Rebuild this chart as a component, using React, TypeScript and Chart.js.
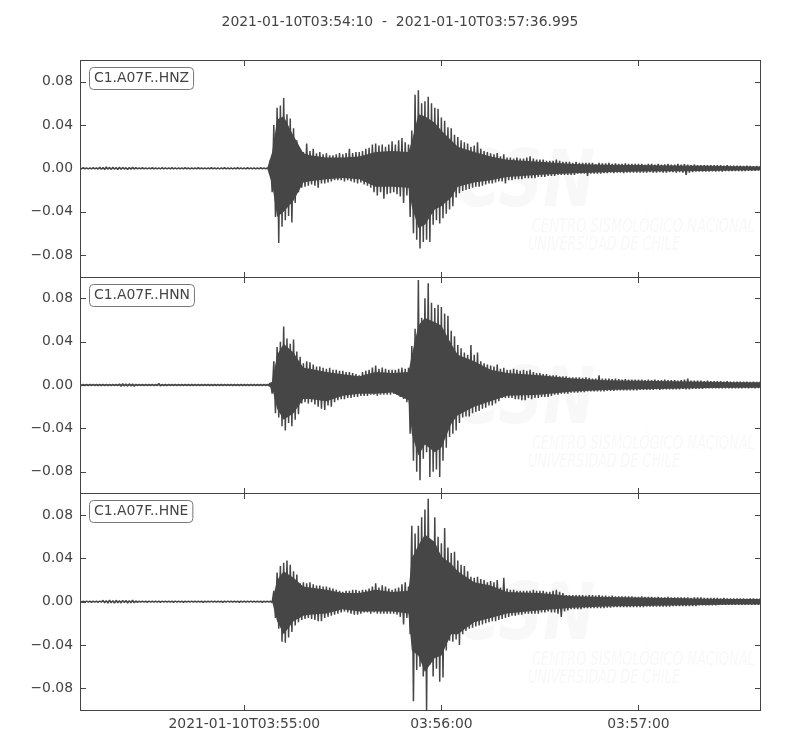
import React, { useEffect, useRef } from 'react';
import { Chart, registerables } from 'chart.js';

Chart.register(...registerables);

// ---------------- data ----------------
const TITLE = '2021-01-10T03:54:10  -  2021-01-10T03:57:36.995';
const TRACE_IDS = ['C1.A07F..HNZ', 'C1.A07F..HNN', 'C1.A07F..HNE'];
const START_S = 0;
const END_S = 206.995;
const X_TICK_SECONDS = [50, 110, 170];
const X_TICK_LABELS = ['2021-01-10T03:55:00', '03:56:00', '03:57:00'];
const Y_TICKS = [-0.08, -0.04, 0, 0.04, 0.08];
const Y_LIMIT = 0.1;
const SAMPLE_STEP_S = 1; // one positive and one negative spike reading per second
const AMPLITUDE_UNIT = 0.001; // readings below are in thousandths

// Times (s after 03:54:10) at which the dense solid core of each trace was read
const CORE_TIMES = [
  0, 57, 58.5, 60, 62, 65, 68, 70, 75, 80, 85, 90, 95, 100, 101, 103,
  105, 108, 110, 113, 115, 120, 125, 130, 140, 150, 160, 170, 180, 190, 200, 207,
];

// HNZ: spike tops (at t) and spike bottoms (at t + 0.5 s)
const HNZ_PEAKS = [
  0.5, 0.6, 0.5, 0.5, 0.6, 0.5, 1.0, 0.8, 1.2, 0.9,
  1.0, 0.7, 1.1, 0.9, 0.6, 0.8, 1.0, 0.6, 0.5, 0.6,
  0.5, 0.5, 0.6, 0.5, 0.5, 0.6, 0.5, 0.5, 0.6, 0.5,
  0.5, 0.5, 0.6, 0.5, 0.5, 0.5, 0.6, 0.5, 0.5, 0.5,
  0.6, 0.5, 0.5, 0.5, 0.6, 0.5, 0.5, 0.5, 0.6, 0.5,
  0.5, 0.6, 0.5, 0.5, 0.5, 0.6, 0.5, 0.5, 8, 40,
  56, 58, 65, 50, 46, 37, 26, 18, 15, 23,
  16, 18, 14, 15, 13, 14, 12, 12, 13, 14,
  13, 14, 18, 14, 15, 15, 16, 18, 19, 22,
  23, 21, 22, 20, 22, 25, 22, 26, 28, 24,
  22, 35, 68, 72, 60, 62, 66, 60, 56, 55,
  47, 44, 38, 37, 31, 29, 26, 24, 23, 20,
  21, 24, 18, 16, 15, 14, 13, 14, 11, 13,
  10, 10, 9, 10, 9, 9, 10, 11, 9, 8,
  8, 8, 7, 7, 7, 8, 7, 6, 6, 6,
  5, 6, 5, 5, 5, 5, 5, 4, 5, 4.5,
  4.5, 5, 4, 4.5, 4, 4, 4.5, 4, 4, 4,
  4, 4, 3.5, 4, 4, 3.5, 4, 3.5, 3.7, 4,
  3.5, 3.5, 4, 3.5, 4, 3.5, 3, 3.5, 3, 3,
  3, 3, 3, 2.8, 3, 2.8, 2.5, 3, 2.5, 2.5,
  2.5, 2.5, 2.2, 2.5, 2.2, 2, 2.2, 2,
];
const HNZ_TROUGHS = [
  0.5, 0.5, 0.6, 0.5, 0.5, 0.7, 0.9, 1.1, 0.8, 1.0,
  0.8, 1.1, 0.9, 0.7, 1.0, 0.8, 0.7, 0.5, 0.5, 0.5,
  0.6, 0.5, 0.5, 0.5, 0.6, 0.5, 0.5, 0.5, 0.5, 0.6,
  0.5, 0.5, 0.5, 0.6, 0.5, 0.5, 0.5, 0.5, 0.6, 0.5,
  0.5, 0.5, 0.6, 0.5, 0.5, 0.5, 0.6, 0.5, 0.5, 0.5,
  0.6, 0.5, 0.5, 0.5, 0.6, 0.5, 0.5, 0.5, 22, 45,
  69, 54, 48, 44, 50, 32, 22, 18, 17, 16,
  15, 16, 18, 14, 14, 13, 12, 11, 11, 11,
  12, 11, 12, 13, 14, 13, 15, 16, 18, 22,
  25, 22, 28, 24, 23, 22, 24, 26, 32, 25,
  45, 60, 66, 74, 68, 66, 68, 52, 48, 51,
  46, 42, 38, 35, 27, 23, 21, 20, 19, 18,
  17, 17, 16, 15, 14, 14, 13, 12, 12, 14,
  11, 11, 10, 10, 10, 9, 9, 9, 9, 8,
  8, 8, 7, 7, 7, 6, 6, 6, 6, 6,
  6, 5, 5, 5, 7, 5, 5, 5, 5, 4.5,
  4.5, 4, 4.5, 4, 4, 4.5, 4, 4, 4, 4,
  4, 4, 4, 3.5, 4, 4, 3.5, 4, 4, 3.5,
  3.5, 4, 3.5, 4, 6, 4, 3.5, 3, 3, 3,
  3, 3, 2.8, 3, 2.8, 3, 2.5, 2.5, 2.5, 2.5,
  2.5, 2.5, 2.5, 2.2, 2.2, 2.2, 2, 2,
];
const HNZ_CORE_TOP = [
  0.4, 0.4, 15, 45, 48, 30, 14, 12, 10, 10, 11, 15, 16, 15, 25, 50,
  48, 42, 35, 26, 20, 15, 11, 8, 6, 4, 3.3, 3, 2.7, 2.3, 2, 1.8,
];
const HNZ_CORE_BOTTOM = [
  0.4, 0.4, 15, 45, 40, 30, 13, 12, 10, 9, 10, 17, 17, 18, 35, 55,
  52, 38, 35, 27, 17, 13, 11, 8, 6, 4.5, 3.5, 3, 2.8, 2.4, 2, 1.8,
];

// HNN
const HNN_PEAKS = [
  0.5, 0.5, 0.6, 0.5, 0.5, 0.6, 0.5, 0.6, 0.5, 0.5,
  0.6, 0.5, 1.0, 1.2, 0.9, 1.1, 1.0, 0.6, 0.5, 0.5,
  0.5, 0.6, 0.5, 0.5, 1.5, 0.5, 0.6, 0.5, 0.5, 0.5,
  0.5, 0.5, 0.6, 0.5, 0.5, 0.5, 0.5, 0.6, 0.5, 0.5,
  0.5, 0.5, 0.5, 0.6, 0.5, 0.5, 0.5, 0.5, 0.5, 0.6,
  0.5, 0.5, 0.5, 0.5, 0.6, 0.5, 0.5, 0.5, 2, 22,
  35, 40, 54, 43, 38, 42, 31, 26, 20, 22,
  21, 19, 17, 17, 16, 15, 16, 14, 14, 13,
  13, 12, 12, 11, 10, 9, 12, 13, 14, 16,
  18, 15, 16, 15, 14, 14, 14, 15, 16, 15,
  16, 36, 52, 97, 62, 80, 94, 76, 71, 74,
  72, 66, 64, 50, 45, 37, 34, 30, 28, 37,
  28, 30, 22, 20, 19, 18, 17, 19, 15, 16,
  14, 14, 15, 14, 13, 14, 13, 14, 12, 11,
  11, 10, 10, 9, 9, 9, 8, 8, 8, 7,
  7, 7, 7, 6.5, 7, 6.5, 6, 6, 9, 6,
  6, 6, 5.5, 6, 5.5, 5, 5.5, 5, 5, 5,
  5, 5, 4.5, 5, 4.5, 5, 4.5, 4.5, 5, 4.5,
  4.5, 4.5, 4, 4.5, 5, 6, 4, 4, 4, 4,
  3.5, 4, 3.5, 3.5, 3.5, 3.5, 3, 3.5, 3, 3,
  3, 3, 3, 3, 2.8, 3, 2.8, 3,
];
const HNN_TROUGHS = [
  0.5, 0.5, 0.5, 0.6, 0.5, 0.5, 0.6, 0.5, 0.5, 0.5,
  0.5, 0.6, 1.2, 1.0, 1.1, 0.9, 1.2, 0.6, 0.5, 0.5,
  0.6, 0.5, 0.5, 0.5, 1.0, 0.6, 0.5, 0.5, 0.6, 0.5,
  0.5, 0.5, 0.5, 0.5, 0.6, 0.5, 0.5, 0.5, 0.5, 0.5,
  0.6, 0.5, 0.5, 0.5, 0.5, 0.5, 0.6, 0.5, 0.5, 0.5,
  0.5, 0.6, 0.5, 0.5, 0.5, 0.5, 0.6, 0.5, 8, 26,
  30, 38, 42, 35, 38, 32, 27, 17, 16, 17,
  16, 18, 20, 22, 23, 19, 20, 16, 14, 13,
  13, 12, 12, 11, 11, 10, 10, 10, 9, 9,
  10, 9, 9, 9, 9, 8, 9, 11, 13, 16,
  45, 70, 80, 88, 68, 62, 85, 80, 78, 85,
  70, 58, 48, 45, 42, 35, 30, 29, 29, 26,
  25, 24, 22, 21, 19, 19, 17, 15, 12, 12,
  12, 12, 13, 13, 14, 14, 12, 13, 12, 12,
  11, 11, 11, 10, 9, 9, 8, 8, 8, 7,
  7, 7, 6.5, 6.5, 6, 6, 6, 6, 6, 6,
  5.5, 5.5, 5.5, 5, 5, 5, 5, 5, 5, 5,
  4.5, 4.5, 4.5, 4.5, 4.5, 4, 4.5, 4, 4, 4,
  4, 4, 4, 3.5, 4, 4, 3.5, 3.5, 3.5, 3.5,
  3, 3, 3, 3, 3, 3, 3, 3, 3, 3,
  3, 3, 2.8, 3, 2.8, 3, 2.8, 3,
];
const HNN_CORE_TOP = [
  0.4, 0.4, 3, 28, 38, 30, 16, 15, 12, 10, 8, 12, 11, 12, 28, 55,
  62, 58, 55, 38, 28, 22, 14, 11, 9, 6, 4.5, 4, 3.5, 3, 2.5, 2.5,
];
const HNN_CORE_BOTTOM = [
  0.4, 0.4, 3, 22, 32, 26, 13, 13, 15, 10, 8, 8, 7, 14, 45, 65,
  55, 62, 58, 36, 28, 20, 15, 10, 9, 6, 4.5, 4, 3.5, 2.8, 2.5, 2.5,
];

// HNE
const HNE_PEAKS = [
  0.5, 0.5, 0.6, 0.5, 0.5, 0.5, 0.6, 1.2, 1.0, 1.4,
  1.0, 1.3, 0.8, 1.2, 1.1, 0.9, 1.3, 0.7, 0.5, 0.5,
  0.5, 0.6, 0.5, 0.5, 0.5, 0.6, 0.5, 0.5, 0.5, 0.6,
  0.5, 0.5, 0.5, 0.5, 0.6, 0.5, 0.5, 0.5, 0.5, 0.5,
  0.6, 0.5, 0.5, 0.5, 0.5, 0.6, 0.5, 0.5, 0.5, 0.5,
  0.5, 0.5, 0.6, 0.5, 0.5, 0.5, 0.5, 0.5, 0.5, 10,
  27, 33, 36, 38, 34, 28, 25, 17, 18, 17,
  18, 16, 15, 15, 14, 14, 13, 12, 11, 10,
  9, 10, 10, 11, 11, 10, 11, 11, 12, 14,
  17, 13, 15, 14, 12, 11, 12, 13, 16, 18,
  14, 70, 63, 70, 78, 85, 95, 55, 78, 60,
  54, 68, 50, 45, 46, 38, 34, 33, 28, 23,
  22, 23, 21, 20, 18, 19, 18, 20, 13, 22,
  12, 11, 11, 10, 10, 10, 10, 10, 11, 10,
  10, 10, 9, 9, 10, 11, 9, 8, 6, 6,
  6, 6, 6, 6, 5.5, 6, 6, 5.5, 6, 5.5,
  5.5, 5, 5.5, 5, 5, 5, 5, 5, 5, 4.5,
  4.5, 5, 4.5, 4.5, 4.5, 4, 4.5, 4, 4, 4.5,
  4, 4, 4, 4, 4, 4, 3.5, 4, 4, 4,
  3.5, 3.5, 3.5, 3.5, 3.5, 3, 3.5, 3, 3, 3,
  3, 3, 3, 2.8, 3, 3, 2.8, 3,
];
const HNE_TROUGHS = [
  0.5, 0.5, 0.5, 0.6, 0.5, 0.6, 0.5, 1.0, 1.4, 1.1,
  1.3, 1.0, 1.2, 0.9, 1.3, 1.0, 1.1, 0.6, 0.5, 0.5,
  0.6, 0.5, 0.5, 0.5, 0.6, 0.5, 0.5, 0.5, 0.6, 0.5,
  0.5, 0.6, 0.5, 0.5, 0.5, 0.5, 0.5, 0.6, 0.5, 0.5,
  0.5, 0.5, 0.5, 0.6, 0.5, 0.5, 0.5, 0.5, 0.6, 0.5,
  0.5, 0.5, 0.5, 0.5, 0.5, 0.6, 0.5, 0.5, 1, 15,
  25, 37, 38, 33, 28, 22, 19, 17, 16, 15,
  16, 17, 18, 18, 15, 14, 13, 12, 11, 10,
  9, 10, 11, 12, 12, 11, 10, 10, 11, 10,
  11, 11, 11, 11, 11, 11, 12, 14, 21, 15,
  30, 92, 63, 60, 69, 100, 58, 69, 62, 74,
  70, 45, 36, 37, 35, 40, 30, 27, 25, 24,
  23, 22, 21, 20, 19, 18, 18, 17, 16, 15,
  14, 13, 13, 12, 12, 11, 11, 11, 11, 11,
  10, 10, 9, 10, 10, 11, 14, 9, 8, 7,
  7, 7, 7, 6, 6, 6, 6, 6, 6, 6,
  5.5, 5.5, 5, 5, 5, 5, 5, 5, 5, 5,
  5, 5, 4.5, 4.5, 4.5, 4.5, 4.5, 4.5, 4.5, 4.5,
  4, 4, 4, 4, 4, 4, 4, 4, 3.5, 3.5,
  3.5, 3.5, 3.5, 3.5, 3, 3, 3, 3, 3, 3,
  3, 3, 3, 3, 3, 3, 2.8, 3,
];
const HNE_CORE_TOP = [
  0.4, 0.4, 0.4, 20, 28, 22, 14, 13, 11, 8, 8, 11, 9, 10, 40, 52,
  62, 55, 42, 35, 28, 18, 15, 9, 8, 5, 4.3, 3.8, 3.3, 2.8, 2.5, 2.5,
];
const HNE_CORE_BOTTOM = [
  0.4, 0.4, 0.4, 18, 30, 18, 13, 12, 11, 7, 9, 9, 9, 11, 45, 50,
  65, 52, 50, 30, 30, 19, 15, 11, 8, 5.5, 4.5, 4, 3.5, 3, 2.5, 2.5,
];

const TRACES = [
  { id: TRACE_IDS[0], axis: 'yZ', peaks: HNZ_PEAKS, troughs: HNZ_TROUGHS, coreTop: HNZ_CORE_TOP, coreBottom: HNZ_CORE_BOTTOM },
  { id: TRACE_IDS[1], axis: 'yN', peaks: HNN_PEAKS, troughs: HNN_TROUGHS, coreTop: HNN_CORE_TOP, coreBottom: HNN_CORE_BOTTOM },
  { id: TRACE_IDS[2], axis: 'yE', peaks: HNE_PEAKS, troughs: HNE_TROUGHS, coreTop: HNE_CORE_TOP, coreBottom: HNE_CORE_BOTTOM },
];

// ---------------- style ----------------
const FONT_FAMILY = "'DejaVu Sans', sans-serif";
const FONT_SIZE = 13.9;
const INK = '#444444';
const WAVE = '#464646';
const BOX_EDGE = '#777777';
const WATERMARK = '#f8f8f8';
const TICK_LEN = 5.5;

function zigzagSeries(peaks: number[], troughs: number[]) {
  const pts: { x: number; y: number }[] = [];
  for (let i = 0; i < peaks.length; i++) {
    const t = START_S + i * SAMPLE_STEP_S;
    pts.push({ x: t, y: peaks[i] * AMPLITUDE_UNIT });
    pts.push({ x: t + SAMPLE_STEP_S / 2, y: -troughs[i] * AMPLITUDE_UNIT });
  }
  return pts;
}
function coreSeries(values: number[], sign: number) {
  return values.map((v, i) => ({ x: CORE_TIMES[i], y: sign * v * AMPLITUDE_UNIT }));
}

function fitText(ctx: CanvasRenderingContext2D, text: string, x: number, y: number, w: number) {
  const m = ctx.measureText(text).width;
  ctx.save();
  ctx.translate(x, y);
  ctx.scale(w / m, 1);
  ctx.fillText(text, 0, 0);
  ctx.restore();
}

function roundRect(ctx: CanvasRenderingContext2D, x: number, y: number, w: number, h: number, r: number) {
  ctx.beginPath();
  ctx.moveTo(x + r, y);
  ctx.lineTo(x + w - r, y);
  ctx.arcTo(x + w, y, x + w, y + r, r);
  ctx.lineTo(x + w, y + h - r);
  ctx.arcTo(x + w, y + h, x + w - r, y + h, r);
  ctx.lineTo(x + r, y + h);
  ctx.arcTo(x, y + h, x, y + h - r, r);
  ctx.lineTo(x, y + r);
  ctx.arcTo(x, y, x + r, y, r);
  ctx.closePath();
}

const seismoPlugin = {
  id: 'seismoPanels',
  beforeDatasetsDraw(chart: any) {
    const ctx: CanvasRenderingContext2D = chart.ctx;
    const { left } = chart.chartArea;
    ctx.save();
    ctx.fillStyle = WATERMARK;
    ctx.textBaseline = 'alphabetic';
    ctx.textAlign = 'left';
    TRACES.forEach((tr) => {
      const s = chart.scales[tr.axis];
      const top = s.top;
      ctx.font = `italic bold 78px 'DejaVu Sans Condensed', ${FONT_FAMILY}`;
      fitText(ctx, 'CSN', left + 375, top + 146, 140);
      ctx.font = `italic 20px 'DejaVu Sans Condensed', ${FONT_FAMILY}`;
      fitText(ctx, 'CENTRO SISMOLÓGICO NACIONAL', left + 452, top + 172, 223);
      fitText(ctx, 'UNIVERSIDAD DE CHILE', left + 448, top + 190, 152);
    });
    ctx.restore();
  },
  afterDraw(chart: any) {
    const ctx: CanvasRenderingContext2D = chart.ctx;
    const { left, right } = chart.chartArea;
    const xs = chart.scales.x;
    const L = Math.round(left) + 0.5;
    const R = Math.round(right) + 0.5;
    ctx.save();
    ctx.strokeStyle = INK;
    ctx.lineWidth = 1;
    const seg = (x1: number, y1: number, x2: number, y2: number) => {
      ctx.beginPath();
      ctx.moveTo(x1, y1);
      ctx.lineTo(x2, y2);
      ctx.stroke();
    };
    TRACES.forEach((tr) => {
      const s = chart.scales[tr.axis];
      const T = Math.round(s.top) + 0.5;
      const B = Math.round(s.bottom) + 0.5;
      ctx.strokeStyle = INK;
      ctx.strokeRect(L, T, R - L, B - T);
      Y_TICKS.forEach((v) => {
        const y = Math.round(s.getPixelForValue(v)) + 0.5;
        seg(L, y, L + TICK_LEN, y);
        seg(R - TICK_LEN, y, R, y);
      });
      X_TICK_SECONDS.forEach((t) => {
        const x = Math.round(xs.getPixelForValue(t)) + 0.5;
        seg(x, T, x, T + TICK_LEN);
        seg(x, B - TICK_LEN, x, B);
      });
      // trace id box
      ctx.font = `${FONT_SIZE}px ${FONT_FAMILY}`;
      const tw = ctx.measureText(tr.id).width;
      const bx = Math.round(left) + 9.5;
      const by = Math.round(s.top) + 7.5;
      roundRect(ctx, bx, by, tw + 9, 22, 4);
      ctx.fillStyle = '#ffffff';
      ctx.fill();
      ctx.strokeStyle = BOX_EDGE;
      ctx.stroke();
      ctx.fillStyle = INK;
      ctx.textAlign = 'left';
      ctx.textBaseline = 'alphabetic';
      ctx.fillText(tr.id, bx + 4.5, s.top + 22);
    });
    // title
    ctx.font = `${FONT_SIZE}px ${FONT_FAMILY}`;
    ctx.fillStyle = INK;
    ctx.textAlign = 'center';
    ctx.textBaseline = 'alphabetic';
    ctx.fillText(TITLE, chart.width / 2, 26);
    ctx.restore();
  },
};

function yAxis(weight: number) {
  return {
    type: 'linear',
    position: 'left',
    stack: 'traces',
    stackWeight: 1,
    weight,
    min: -Y_LIMIT,
    max: Y_LIMIT,
    grid: { display: false, drawTicks: false },
    border: { display: false },
    afterBuildTicks: (s: any) => {
      s.ticks = Y_TICKS.map((v) => ({ value: v }));
    },
    afterFit: (s: any) => {
      s.width = 80;
    },
    ticks: {
      padding: 7,
      color: INK,
      font: { family: FONT_FAMILY, size: FONT_SIZE },
      callback: (v: number) => (v < -1e-9 ? '\u2212' : '') + Math.abs(v).toFixed(2),
    },
  };
}

export default function App() {
  const ref = useRef<HTMLCanvasElement>(null);
  useEffect(() => {
    const canvas = ref.current;
    if (!canvas) return;
    const datasets: any[] = [];
    TRACES.forEach((tr) => {
      const common = {
        yAxisID: tr.axis,
        xAxisID: 'x',
        borderColor: WAVE,
        backgroundColor: WAVE,
        pointRadius: 0,
        tension: 0,
      };
      datasets.push({ ...common, label: tr.id + ' core+', data: coreSeries(tr.coreTop, 1), borderWidth: 0, fill: '+1' });
      datasets.push({ ...common, label: tr.id + ' core-', data: coreSeries(tr.coreBottom, -1), borderWidth: 0, fill: false });
      datasets.push({
        ...common,
        label: tr.id,
        data: zigzagSeries(tr.peaks, tr.troughs),
        borderWidth: 1.5,
        borderJoinStyle: 'bevel',
        fill: false,
      });
    });
    const chart = new Chart(canvas, {
      type: 'line',
      data: { datasets },
      options: {
        animation: false,
        responsive: false,
        devicePixelRatio: 1,
        parsing: false,
        normalized: true,
        events: [],
        layout: { padding: { left: 0, right: 40, top: 60, bottom: 0 } },
        plugins: {
          legend: { display: false },
          tooltip: { enabled: false },
          title: { display: false },
          filler: { propagate: false },
        },
        scales: {
          x: {
            type: 'linear',
            position: 'bottom',
            min: START_S,
            max: END_S,
            grid: { display: false, drawTicks: false },
            border: { display: false },
            afterBuildTicks: (s: any) => {
              s.ticks = X_TICK_SECONDS.map((v) => ({ value: v }));
            },
            afterFit: (s: any) => {
              s.height = 40;
            },
            ticks: {
              padding: 6,
              autoSkip: false,
              maxRotation: 0,
              color: INK,
              font: { family: FONT_FAMILY, size: FONT_SIZE },
              callback: (v: number) => {
                const i = X_TICK_SECONDS.indexOf(v);
                return i >= 0 ? X_TICK_LABELS[i] : '';
              },
            },
          },
          yZ: yAxis(3),
          yN: yAxis(2),
          yE: yAxis(1),
        } as any,
      },
      plugins: [seismoPlugin],
    } as any);
    return () => chart.destroy();
  }, []);
  return (
    <div style={{ position: 'fixed', left: 0, top: 0, width: 800, height: 750, background: '#ffffff' }}>
      <canvas ref={ref} width={800} height={750} style={{ display: 'block', width: 800, height: 750 }} />
    </div>
  );
}
